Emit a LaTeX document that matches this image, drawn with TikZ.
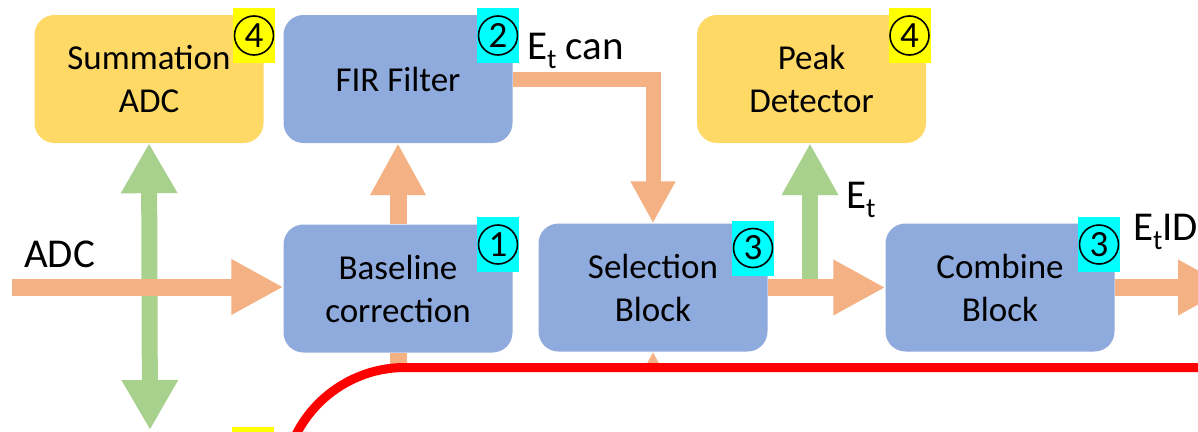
\documentclass[tikz,border=0pt]{standalone}
\usepackage{fontspec}
\setmainfont{Carlito}
\usetikzlibrary{arrows.meta}
\definecolor{blockblue}{HTML}{8FAADC}
\definecolor{blockgold}{HTML}{FFD966}
\definecolor{flowor}{HTML}{F4B183}
\definecolor{flowgr}{HTML}{A9D18E}
\definecolor{tagyellow}{HTML}{FFFF00}
\definecolor{tagcyan}{HTML}{00FFFF}
\newcommand\etsub{E\raisebox{-9pt}{\fontsize{28}{28}\selectfont t}}
\begin{document}
\begin{tikzpicture}[x=1pt,y=-1pt,
  block/.style={rectangle, rounded corners=20pt, inner sep=0pt, align=center,
    font=\fontsize{35}{43}\selectfont, minimum width=229pt, minimum height=128pt},
  blue block/.style={block, fill=blockblue},
  gold block/.style={block, fill=blockgold},
  tag/.style={rectangle, inner sep=0pt, minimum width=42pt, minimum height=55pt},
  tagnum/.style={inner sep=0pt, font=\fontsize{37}{37}\selectfont},
  tagring/.style={line width=1.6pt},
  lbl/.style={inner sep=0pt, anchor=base west, font=\fontsize{41}{41}\selectfont},
  bigflow/.style={line width=17pt, line join=miter, -{Triangle[width=52pt,length=52pt]}},
  smallflow/.style={line width=15pt, line join=miter, -{Triangle[width=42pt,length=42pt]}},
]
\useasboundingbox (0,0) rectangle (1198,431);
\clip (0,0) rectangle (1198,431);
\fill[white] (0,0) rectangle (1198,431);

% processing blocks
\node[gold block] (sum)  at (149,79)    {Summation\\ADC};
\node[blue block] (fir)  at (398,79)    {FIR Filter};
\node[gold block] (peak) at (811.5,79)  {Peak\\Detector};
\node[blue block] (base) at (398,288.5) {Baseline\\correction};
\node[blue block] (sel)  at (653,287.5) {Selection\\Block};
\node[blue block] (comb) at (1000,287.5){Combine\\Block};

% free ends of the connectors
\coordinate (adcin)  at (12,287);
\coordinate (sumout) at (150,430);
\coordinate (etpeak) at (810,279);
\coordinate (out)    at (1230,287.5);
\coordinate (basedn) at (398,445);
\coordinate (selup)  at (653,445);

% connectors
\draw[flowgr, line width=16pt, {Triangle[width=53pt,length=50pt]}-{Triangle[width=53pt,length=50pt]}]
  (sum.south) -- (sumout);
\draw[flowgr, line width=16pt, -{Triangle[width=53pt,length=52pt]}]
  (etpeak) -- (etpeak |- peak.south);
\draw[flowor, bigflow] (adcin) -- (adcin -| base.west);
\draw[flowor, bigflow] (base.north) -- (fir.south);
\draw[flowor, smallflow] (fir.east) -| (sel.north);
\draw[flowor, bigflow] (sel.east) -- (comb.west);
\draw[flowor, bigflow] (comb.east) -- (out);
\draw[flowor, bigflow] (base.south) -- (basedn);
\draw[flowor, smallflow] (selup) -- (sel.south);

% lower region outline
\draw[red, line width=9pt, fill=white, rounded corners=122pt]
  (283,620) -- (283,367.5) -- (1320,367.5) -- (1320,620) -- cycle;

% labels
\node[lbl] (adclbl) at (24,267) {ADC};
\node[lbl] (canlbl) at (527,59) {\etsub{} can};
\node[lbl] (etlbl)  at (846,208) {\etsub};
\node[lbl] (idlbl)  at (1133,240) {\etsub ID};

% stage tags: coloured square, ring and stage number
\foreach \nm/\px/\py/\col/\num in {
    sumtag/254/35.5/tagyellow/4, firtag/498/35.5/tagcyan/2,
    peaktag/909.5/35.5/tagyellow/4, basetag/498/244.5/tagcyan/1,
    seltag/753/248/tagcyan/3, combtag/1099/244.5/tagcyan/3} {
  \node[tag, fill=\col] (\nm) at (\px,\py) {};
  \draw[tagring] (\nm.center) circle[radius=19.5pt];
  \node[tagnum] at (\nm.center) {\num};
}
\node[tag, fill=tagyellow] (lowtag) at (253,454.5) {};
\end{tikzpicture}
\end{document}
